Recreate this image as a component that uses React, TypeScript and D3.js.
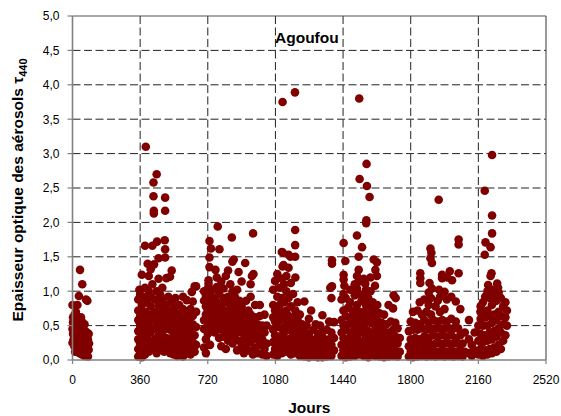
import React from "react";
import * as d3 from "d3";

// Aerosol optical thickness at 440 nm, Agoufou station, by day since start of record.
// Each row: [day, value, value, ...] — observations grouped into day bins.
type Row = number[];

const season0: Row[] = [
  [0, 0.80, 0.45, 0.25], [3, 0.62, 0.38, 0.55], [6, 0.30, 0.50], [10, 0.65, 0.42, 0.20],
  [14, 0.33, 0.58, 0.12], [18, 0.48, 0.28, 0.70], [22, 0.35, 0.18, 0.55], [26, 0.80, 0.62, 0.40, 0.24],
  [30, 0.52, 0.30, 0.15], [34, 0.93, 0.44, 0.22], [38, 0.60, 0.35, 0.10], [40, 1.31, 0.50, 0.28],
  [45, 0.42, 0.18, 0.62], [50, 0.36, 0.25, 0.08], [52, 1.10, 0.55, 0.15], [56, 0.45, 0.30],
  [60, 0.40, 0.20, 0.10], [64, 0.32, 0.52, 0.06], [68, 0.25, 0.42, 0.14], [72, 0.88, 0.34, 0.18],
  [76, 0.28, 0.10, 0.40], [79, 0.86, 0.22], [82, 0.05, 0.30], [86, 0.15, 0.38], [88, 0.24],
];

const season1: Row[] = [
  [350, 0.05, 0.16, 0.30, 0.42, 0.58, 0.72, 0.88], [356, 1.02], [360, 0.10, 0.24, 0.50, 0.64, 0.95],
  [369, 0.04, 0.18, 0.36, 0.80, 1.24], [378, 0.12, 0.28, 0.46, 0.60, 0.92],
  [386, 0.08, 0.40, 0.70, 1.05, 1.66], [390, 3.10], [396, 0.20, 0.34, 0.56, 0.84], [400, 1.40],
  [406, 0.12, 0.48, 0.66, 1.00, 1.22], [416, 0.26, 0.40, 0.78, 0.92, 1.32],
  [425, 0.15, 0.58, 1.10, 1.66], [431, 2.58, 2.38], [433, 2.17, 2.13], [434, 1.39],
  [438, 0.30, 0.46, 0.70, 0.88], [448, 0.10, 0.22, 0.52, 0.64, 1.00, 2.70], [450, 1.72],
  [458, 0.36, 0.80, 1.18, 1.48], [468, 0.16, 0.28, 0.46, 0.60, 0.94], [478, 0.40, 0.72, 0.86, 1.05],
  [488, 0.12, 0.24, 0.54, 0.66], [491, 1.74], [493, 2.36, 2.17, 1.61, 1.49],
  [500, 0.32, 0.46, 0.80, 1.19], [510, 0.18, 0.58, 0.70, 0.92], [519, 1.21], [520, 0.10, 0.30, 0.44],
  [528, 0.24, 0.52, 0.66, 0.84, 1.30], [538, 0.08, 0.16, 0.38, 0.74], [548, 0.26, 0.46, 0.60, 0.90],
  [558, 0.06, 0.14, 0.34, 0.68], [568, 0.22, 0.42, 0.54, 0.80], [578, 0.10, 0.30, 0.62],
  [588, 0.05, 0.18, 0.46, 0.74, 0.92], [598, 0.26, 0.38, 0.56], [608, 0.10, 0.20, 0.66, 0.87],
  [618, 0.30, 0.46, 0.58], [628, 0.08, 0.16, 0.40, 0.74], [635, 0.99], [640, 0.26, 0.52, 0.64, 0.85],
  [650, 0.12, 0.36, 1.07], [658, 0.22, 0.48, 0.70, 1.07],
];

const season2: Row[] = [
  [700, 0.18, 0.45, 0.58, 0.86, 1.00], [710, 0.10, 0.30, 0.66, 0.78, 0.93], [720, 0.38, 0.50, 0.72, 1.04],
  [724, 1.11, 1.16], [729, 1.73, 1.49, 1.35], [737, 1.62], [732, 0.22, 0.60, 0.84, 0.96],
  [745, 0.46, 0.66, 0.78, 1.02], [757, 0.40, 0.56, 0.72, 0.90], [761, 1.31],
  [768, 0.50, 0.64, 0.84, 1.06, 1.20], [773, 1.94], [780, 0.32, 0.58, 0.76, 0.96], [782, 1.61],
  [792, 0.20, 0.44, 0.66, 0.80, 1.14], [804, 0.34, 0.52, 0.72, 0.90, 1.04],
  [816, 0.16, 0.42, 0.62, 0.84, 1.22], [828, 0.28, 0.50, 0.68, 0.92, 1.30],
  [840, 0.38, 0.58, 0.78, 1.10], [848, 1.78], [851, 1.43], [858, 1.46],
  [852, 0.24, 0.46, 0.66, 0.88, 1.00], [864, 0.32, 0.54, 0.74, 0.92],
  [876, 0.14, 0.40, 0.60, 0.82, 1.02], [884, 1.28], [888, 0.28, 0.50, 0.68, 0.86],
  [900, 0.20, 0.40, 0.58, 0.78, 1.14], [912, 0.10, 0.30, 0.50, 0.70], [919, 1.41],
  [924, 0.22, 0.42, 0.62, 0.86], [936, 0.14, 0.34, 0.54, 0.72], [948, 0.26, 0.46, 0.66, 0.92, 1.10],
  [955, 1.22], [961, 1.84], [963, 1.25], [960, 0.08, 0.36, 0.56], [972, 0.18, 0.44, 0.62, 0.80],
  [985, 0.10, 0.30, 0.52], [997, 0.22, 0.40, 0.64, 0.80], [1010, 0.08, 0.30, 0.50],
  [1022, 0.16, 0.40, 0.66], [1033, 0.06, 0.24, 0.50],
];

const season3: Row[] = [
  [1068, 0.08, 0.26, 0.44, 0.62, 0.80, 1.02], [1078, 0.16, 0.36, 0.56, 0.72, 1.15],
  [1090, 0.06, 0.24, 0.48, 0.66, 0.92, 1.25], [1102, 0.16, 0.34, 0.58, 0.80, 1.05],
  [1114, 0.10, 0.28, 0.46, 0.70, 0.90, 1.18, 1.57], [1118, 3.75, 1.36], [1120, 1.56], [1123, 1.38],
  [1126, 0.20, 0.40, 0.62, 0.84, 1.10], [1138, 0.12, 0.30, 0.52, 0.72, 1.00, 1.22],
  [1150, 0.22, 0.44, 0.64, 0.90, 1.34, 1.53], [1160, 1.50], [1162, 0.08, 0.32, 0.54, 0.78, 1.12],
  [1174, 0.18, 0.40, 0.62, 0.96], [1184, 3.89], [1185, 1.89, 1.67, 1.50],
  [1186, 0.10, 0.28, 0.48, 0.72, 1.20], [1198, 0.16, 0.36, 0.58, 0.84], [1210, 0.06, 0.24, 0.44, 0.66],
  [1222, 0.14, 0.34, 0.52], [1234, 0.05, 0.22, 0.42, 0.85], [1246, 0.12, 0.30, 0.50],
  [1258, 0.04, 0.20, 0.38, 0.60], [1270, 0.12, 0.30, 0.72], [1282, 0.05, 0.22, 0.44],
  [1294, 0.12, 0.30, 0.52], [1306, 0.04, 0.18, 0.38], [1318, 0.10, 0.28, 0.50],
  [1330, 0.04, 0.20, 0.40, 0.65], [1342, 0.12, 0.30], [1354, 0.05, 0.20, 0.44],
  [1366, 0.12, 0.30, 0.56], [1372, 1.05], [1378, 0.06, 0.22, 0.40, 0.90], [1381, 1.45, 1.40, 1.07],
  [1392, 0.14, 0.32, 0.55],
];

const season4: Row[] = [
  [1432, 0.06, 0.22, 0.40, 0.58, 0.88], [1442, 0.14, 0.32, 0.50, 0.72, 0.96],
  [1443, 1.70, 1.24, 1.17], [1447, 1.08], [1452, 1.44],
  [1454, 0.04, 0.24, 0.44, 0.64, 0.90], [1466, 0.12, 0.30, 0.52, 0.76],
  [1478, 0.05, 0.20, 0.40, 0.62, 0.84, 1.02], [1490, 0.14, 0.34, 0.56, 0.72],
  [1502, 0.06, 0.26, 0.46, 0.66, 0.94, 1.10], [1514, 0.16, 0.36, 0.58, 0.80, 1.04, 1.22, 1.81],
  [1523, 1.50, 1.31], [1526, 3.80], [1528, 2.63],
  [1526, 0.08, 0.28, 0.50, 0.70, 0.96, 1.14], [1538, 0.18, 0.40, 0.60, 0.86], [1541, 1.64],
  [1550, 0.06, 0.26, 0.48, 0.70, 0.94, 1.18], [1558, 1.11],
  [1563, 1.99], [1564, 2.03], [1565, 2.85], [1567, 2.53], [1581, 2.37],
  [1562, 0.14, 0.34, 0.56, 0.80, 1.02], [1574, 0.04, 0.22, 0.42, 0.66, 0.90],
  [1586, 0.12, 0.32, 0.54, 0.76, 1.00, 1.20], [1598, 0.20, 0.40, 0.62, 0.84],
  [1603, 1.46], [1612, 1.31], [1620, 1.42, 1.22],
  [1610, 0.06, 0.28, 0.50, 0.72, 1.08], [1622, 0.14, 0.36, 0.58, 0.80],
  [1634, 0.05, 0.24, 0.46, 0.68], [1646, 0.12, 0.32, 0.54], [1658, 0.04, 0.20, 0.42, 0.66],
  [1670, 0.12, 0.30, 0.52], [1682, 0.05, 0.22, 0.40, 0.80], [1694, 0.12, 0.30, 0.56],
  [1706, 0.06, 0.22, 0.44, 0.75], [1709, 0.94], [1720, 0.90], [1718, 0.14, 0.34, 0.54],
  [1730, 0.05, 0.24, 0.46], [1742, 0.12, 0.32],
];

const season5: Row[] = [
  [1790, 0.05, 0.20, 0.42], [1800, 0.12, 0.30, 0.56], [1812, 0.04, 0.22, 0.44, 0.70],
  [1824, 0.12, 0.32, 0.54], [1836, 0.05, 0.22, 0.44, 0.72], [1848, 0.12, 0.30, 0.52, 0.84],
  [1851, 1.26, 1.19, 1.12], [1860, 0.06, 0.24, 0.46, 0.66], [1872, 0.14, 0.34, 0.58, 0.88],
  [1884, 0.05, 0.24, 0.44, 0.70], [1896, 0.12, 0.32, 0.54, 0.80, 0.98], [1900, 1.12],
  [1905, 1.62, 1.48], [1910, 1.56], [1913, 1.41, 1.04],
  [1908, 0.06, 0.22, 0.44, 0.66, 0.90], [1920, 0.14, 0.36, 0.58], [1932, 0.05, 0.24, 0.46, 0.78],
  [1944, 0.12, 0.34, 0.56, 0.86], [1949, 2.33], [1951, 1.02], [1956, 0.06, 0.24, 0.46, 0.70, 0.92],
  [1967, 1.24, 1.19], [1968, 0.14, 0.36, 0.58], [1980, 0.05, 0.24, 0.46, 0.74, 0.99],
  [1992, 0.12, 0.34, 0.56, 0.88], [1995, 1.20], [2004, 0.06, 0.24, 0.46], [2008, 1.29],
  [2016, 0.14, 0.36, 0.60, 0.92], [2020, 1.16], [2028, 0.05, 0.24, 0.46],
  [2040, 0.12, 0.32, 0.56, 0.85], [2052, 0.06, 0.24, 0.46], [2055, 1.75, 1.68, 1.26],
  [2064, 0.14, 0.36, 0.74], [2076, 0.05, 0.24], [2088, 0.12, 0.40],
];

const season6: Row[] = [
  [2110, 0.10, 0.30, 0.58], [2125, 0.06, 0.22], [2140, 0.14, 0.40],
  [2160, 0.08, 0.28, 0.50], [2171, 0.70], [2172, 0.16, 0.38, 0.60, 0.78],
  [2184, 0.06, 0.26, 0.50, 0.84], [2194, 2.46, 1.53], [2198, 1.71],
  [2196, 0.14, 0.36, 0.62, 0.92], [2208, 0.08, 0.28, 0.50, 0.72, 1.00], [2212, 1.09],
  [2220, 0.16, 0.40, 0.64, 0.90], [2225, 1.64, 1.22], [2230, 1.26], [2233, 2.98, 2.10, 1.84],
  [2232, 0.10, 0.30, 0.54, 0.80, 1.02], [2244, 0.18, 0.42, 0.66, 0.96],
  [2256, 0.12, 0.34, 0.58, 0.86], [2260, 1.11], [2265, 1.05], [2268, 0.22, 0.46, 0.70, 0.98],
  [2280, 0.16, 0.40, 0.64, 0.90], [2292, 0.28, 0.52, 0.78], [2304, 0.36, 0.62, 0.84], [2312, 0.50, 0.72],
];

const seasons = [season0, season1, season2, season3, season4, season5, season6];

const xTicks = [0, 360, 720, 1080, 1440, 1800, 2160, 2520];
const yTicks = [0, 0.5, 1, 1.5, 2, 2.5, 3, 3.5, 4, 4.5, 5];

const W = 561;
const H = 416;
const left = 72.5;
const right = 546;
const top = 16;
const bottom = 360;

const x = d3.scaleLinear().domain([0, 2520]).range([left, right]);
const y = d3.scaleLinear().domain([0, 5]).range([bottom, top]);
const fmt = (v: number) => v.toFixed(1).replace(".", ",");

const points: [number, number][] = seasons.flatMap((s) =>
  s.flatMap(([day, ...vals]) => vals.map((v) => [day, v] as [number, number]))
);

export default function App() {
  const dash = "8,3.5";
  return (
    <svg
      width={W}
      height={H}
      style={{ position: "absolute", left: 0, top: 0, background: "#fff" }}
      fontFamily="Arial, 'Liberation Sans', sans-serif"
    >
      <rect x={0} y={0} width={W} height={H} fill="#fff" />
      {/* grid */}
      {yTicks.slice(1, -1).map((t) => (
        <line key={"gy" + t} x1={left} x2={right} y1={y(t)} y2={y(t)} stroke="#222" strokeWidth={1} strokeDasharray={dash} />
      ))}
      {xTicks.slice(1, -1).map((t) => (
        <line key={"gx" + t} x1={x(t)} x2={x(t)} y1={top} y2={bottom} stroke="#222" strokeWidth={1} strokeDasharray={dash} />
      ))}
      {/* frame */}
      <line x1={left} x2={right} y1={top} y2={top} stroke="#555" strokeWidth={1.2} />
      <line x1={right} x2={right} y1={top} y2={bottom} stroke="#555" strokeWidth={1.2} />
      {/* points */}
      <g fill="#800000">
        {points.map(([d, v], i) => (
          <circle key={i} cx={x(d)} cy={y(v)} r={4.3} />
        ))}
      </g>
      {/* axes */}
      <line x1={left} x2={left} y1={top} y2={bottom} stroke="#808080" strokeWidth={1.6} />
      <line x1={left} x2={right} y1={bottom} y2={bottom} stroke="#808080" strokeWidth={1.6} />
      {yTicks.map((t) => (
        <g key={"yt" + t}>
          <line x1={left - 5} x2={left} y1={y(t)} y2={y(t)} stroke="#808080" strokeWidth={1.2} />
          <text x={59.5} y={y(t)} dy="0.36em" textAnchor="end" fontSize={12} fill="#000">
            {fmt(t)}
          </text>
        </g>
      ))}
      {xTicks.map((t) => (
        <g key={"xt" + t}>
          <line x1={x(t)} x2={x(t)} y1={bottom} y2={bottom + 4} stroke="#808080" strokeWidth={1.2} />
          <text x={x(t)} y={384} textAnchor="middle" fontSize={12} fill="#000">
            {t}
          </text>
        </g>
      ))}
      <text x={275} y={43} fontSize={15.5} fontWeight="bold" fill="#000">
        Agoufou
      </text>
      <text x={(left + right) / 2} y={413} textAnchor="middle" fontSize={15.5} fontWeight="bold" fill="#000">
        Jours
      </text>
      <text
        transform={`translate(23, ${(bottom + top) / 2 + 2}) rotate(-90)`}
        textAnchor="middle"
        fontSize={15.5}
        fontWeight="bold"
        fill="#000"
      >
        Epaisseur optique des aérosols τ
        <tspan fontSize={11} dy={4}>
          440
        </tspan>
      </text>
    </svg>
  );
}
